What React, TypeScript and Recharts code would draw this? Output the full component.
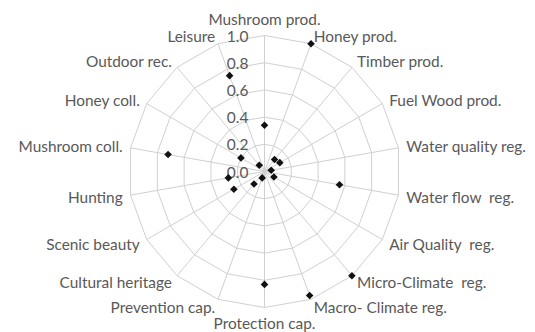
import React from 'react';
import { RadarChart, Radar, PolarGrid, PolarAngleAxis, PolarRadiusAxis } from 'recharts';

const categories = [
  'Mushroom prod.', 'Honey prod.', 'Timber prod.', 'Fuel Wood prod.', 'Water quality reg.',
  'Water flow  reg.', 'Air Quality  reg.', 'Micro-Climate  reg.', 'Macro- Climate reg.',
  'Protection cap.', 'Prevention cap.', 'Cultural heritage', 'Scenic beauty', 'Hunting',
  'Mushroom coll.', 'Honey coll.', 'Outdoor rec.', 'Leisure',
];
const values = [0.34, 1.0, 0.115, 0.13, 0.05, 0.56, 0.08, 1.0, 0.97, 0.83, 0.05, 0.12, 0.26, 0.27, 0.72, 0.2, 0.06, 0.75];
const radiusTicks = [0, 0.2, 0.4, 0.6, 0.8, 1.0];

const data = categories.map((c, i) => ({ category: c, value: values[i] }));

const W = 527;
const H = 324;
const CX = 256.5;
const CY = 163.5;
const R = 136;
const FONT = 'Lato, "Open Sans", sans-serif';
const TEXT = '#595959';
const GRID = '#d0d0d0';

const AngleTick = (props: any) => {
  const { x, y, textAnchor, payload } = props;
  let dy = 0;
  let baseline: any = 'central';
  if (textAnchor === 'middle') {
    if (y < CY) { baseline = 'auto'; dy = -3; } else { baseline = 'hanging'; dy = 1; }
  }
  return (
    <text x={x} y={y + dy} textAnchor={textAnchor} dominantBaseline={baseline}
      fill={TEXT} fontSize={15.4} fontFamily={FONT} style={{ whiteSpace: 'pre' }}>
      {payload.value}
    </text>
  );
};

const RadiusTick = (props: any) => {
  const { x, y, payload } = props;
  return (
    <text x={x - 16} y={y} textAnchor="end" dominantBaseline="central"
      fill={TEXT} fontSize={15.5} fontFamily={FONT}>
      {Number(payload.value).toFixed(1)}
    </text>
  );
};

const Diamond = (props: any) => {
  const { cx, cy, index } = props;
  const s = 3.8;
  return (
    <path key={`d-${index}`} d={`M${cx},${cy - s}L${cx + s},${cy}L${cx},${cy + s}L${cx - s},${cy}Z`} fill="#111" stroke="none" />
  );
};

export default function App() {
  return (
    <div style={{ width: W, height: H, background: '#fff' }}>
      <RadarChart width={W} height={H} data={data} cx={CX} cy={CY} outerRadius={R}
        startAngle={90} endAngle={-270} style={{ overflow: 'visible' }}>
        <PolarGrid gridType="polygon" stroke={GRID} strokeWidth={1} />
        <PolarAngleAxis dataKey="category" tick={<AngleTick />} tickLine={false} axisLine={false} />
        <PolarRadiusAxis angle={90} domain={[0, 1]} tickCount={radiusTicks.length} ticks={radiusTicks as any}
          axisLine={false} tickLine={false} tick={<RadiusTick />} />
        <Radar dataKey="value" stroke="none" fill="none" isAnimationActive={false} dot={<Diamond />} />
      </RadarChart>
    </div>
  );
}
